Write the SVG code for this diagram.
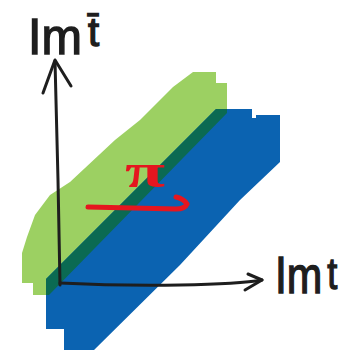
<svg xmlns="http://www.w3.org/2000/svg" xmlns:xlink="http://www.w3.org/1999/xlink" width="356" height="352" viewBox="0 0 356 352">
<style>
.ax{fill:none;stroke:#1e1e1e;stroke-width:3;stroke-linecap:round;stroke-linejoin:round}
.lbl{font-family:"Liberation Sans",Arial,sans-serif;fill:#1e1e1e;stroke:#1e1e1e;stroke-width:1.4}
.red{fill:none;stroke:#e5161f;stroke-width:5;stroke-linecap:round;stroke-linejoin:round}
</style>
<defs>
<path id="greenShape" d="M193,72 L216,72 L216,83 L227,83 L227,113 L49,295 L33,295 L33,283 L22,283 L22,253 L27,237 L35,215 L50,195 L70,182 L115,140 L140,120 L173,87 Z"/>
<path id="blueShape" d="M216,109 L252,109 L252,118 L256,118 L256,115 L280,115 L280,162 L240,200 L180,265 L94,350 L64,350 L64,329 L46,329 L46,279 Z"/>
<clipPath id="gclip"><use xlink:href="#greenShape"/></clipPath>
</defs>
<rect width="356" height="352" fill="#ffffff"/>
<g id="green-band"><use xlink:href="#greenShape" fill="#9cd062"/></g>
<g id="blue-band"><use xlink:href="#blueShape" fill="#0b63b1"/>
<use xlink:href="#blueShape" fill="#0b6a52" clip-path="url(#gclip)"/></g>
<g id="connectors">
<path class="ax" d="M60,285 L58,180 L55,61"/>
<path class="ax" d="M43,93 L55,60 L71,86"/>
<path class="ax" d="M60,283 Q120,286 180,285 T262,280"/>
<path class="ax" d="M248,274 L262,280 L245,290"/>
</g>
<g id="pi-arrow">
<path class="red" d="M88,207 Q130,208 176,209 Q185,209 187,204 M176,197 Q184,199 187,204"/>
<text x="125" y="187" font-family="Liberation Serif,serif" font-size="48" font-weight="bold" fill="#e5161f" textLength="40" lengthAdjust="spacingAndGlyphs">π</text>
</g>
<g id="label-y"><text class="lbl" x="28" y="54" font-size="50" textLength="54" lengthAdjust="spacingAndGlyphs">Im</text><text class="lbl" x="88" y="46" font-size="40">t̄</text></g>
<g id="label-x"><text class="lbl" transform="translate(275,293) scale(0.82,1)" font-size="52">Im<tspan dx="6" dy="-4" font-size="44">t</tspan></text></g>
</svg>
